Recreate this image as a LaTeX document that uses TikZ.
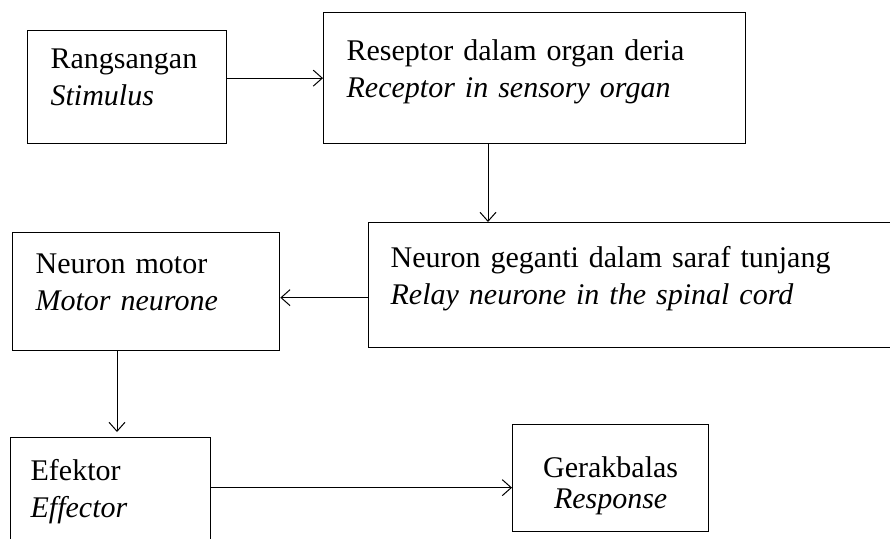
\documentclass[tikz,border=0pt]{standalone}
\usepackage{fontspec}
\setmainfont{Liberation Serif}
\usetikzlibrary{positioning, arrows.meta}

\begin{document}
\begin{tikzpicture}[x=1pt,y=-1pt,line width=1.3pt,
  kotak/.style={draw,anchor=north west,align=left,inner xsep=23pt,inner ysep=0pt,
    text depth=56pt,font=\fontsize{30}{37}\selectfont},
  panah/.style={-{Straight Barb[length=9pt,width=16pt]},line width=1pt}]
\useasboundingbox (0,0) rectangle (890,538);
% boxes
\node[kotak,text width=153pt,minimum height=113pt] (stimulus) at (27,30) {Rangsangan\\\textit{Stimulus}};
\node[kotak,text width=376pt,minimum height=131pt] (reseptor) at (323,12) {Reseptor dalam organ deria\\\textit{Receptor in sensory organ}};
\node[kotak,text width=506pt,minimum height=125pt,inner xsep=22pt] (geganti) at (368,222) {Neuron geganti dalam saraf tunjang\\\textit{Relay neurone in the spinal cord}};
\node[kotak,text width=221pt,minimum height=118pt] (motor) at (12,232) {Neuron motor\\\textit{Motor neurone}};
\node[kotak,text width=160pt,minimum height=120pt,inner xsep=20pt] (efektor) at (10,437) {Efektor\\\textit{Effector}};
\node[kotak,text width=150pt,minimum height=107pt,align=center,text depth=23pt,
  font=\fontsize{30}{31}\selectfont] (gerak) at (512,424) {Gerakbalas\\\textit{Response}};
% arrows
\draw[panah] (stimulus.east |- reseptor.west) -- (reseptor.west);
\draw[panah] ([xshift=165pt]reseptor.south west) -- ([xshift=165pt]reseptor.south west |- geganti.north);
\draw[panah] ([yshift=-6pt]geganti.west |- motor.east) -- ([yshift=-6pt]motor.east);
\draw[panah] ([xshift=105pt]motor.south west) -- ([xshift=105pt,yshift=5pt]motor.south west |- efektor.north);
\draw[panah] ([yshift=10pt]efektor.east) -- ([yshift=10pt]efektor.east -| gerak.west);
\end{tikzpicture}
\end{document}
